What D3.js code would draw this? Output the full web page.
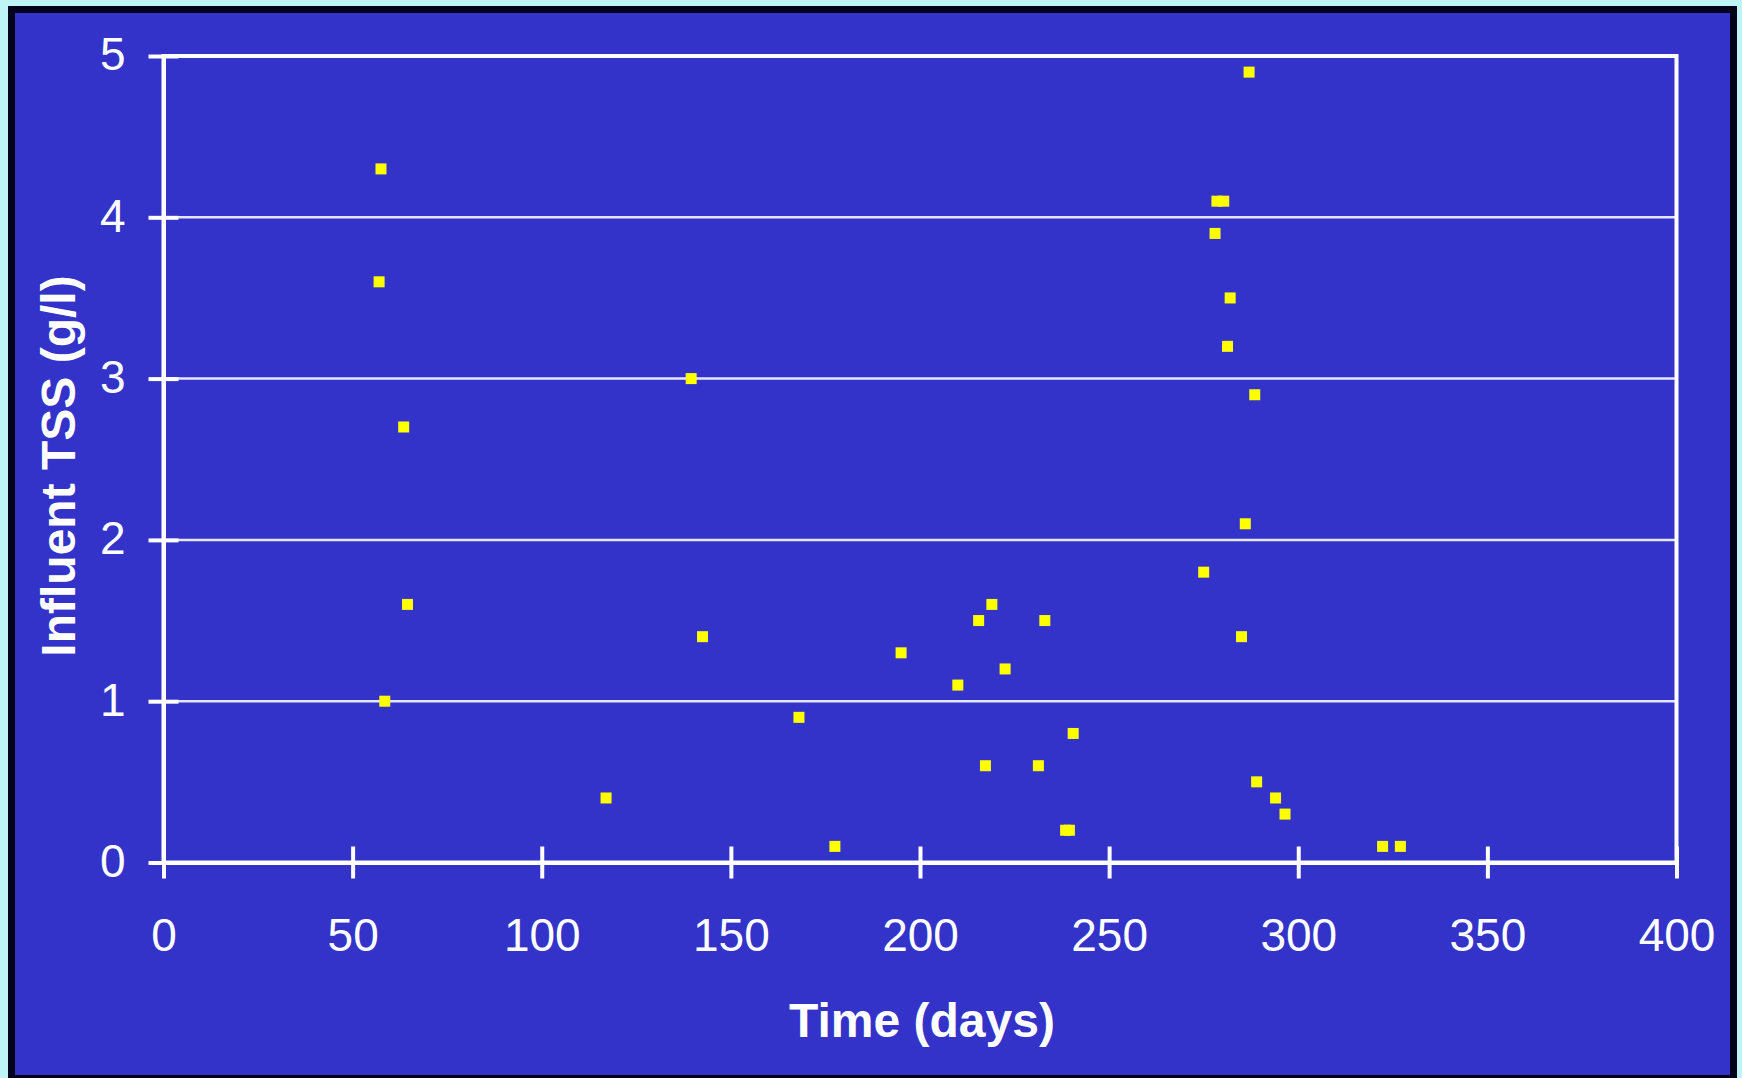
<!DOCTYPE html>
<meta charset="utf-8">
<body>
<script src="https://cdn.jsdelivr.net/npm/d3@7"></script>
<style>
    html, body {
        margin: 0;
        background: #bff4f7;
    }
    text {
        font-family: "Liberation Sans", Arial, sans-serif;
        fill: #fff;
    }
</style>
<script>
// influent TSS samples
var days = [57.5, 57, 63.5, 64.5, 58.5,
    117, 139.5, 142.5, 168, 177.5,
    195, 210, 215.5, 219, 222.5, 217.3, 233, 231.3, 240.5, 238.5, 239.5,
    275, 278, 278.5, 280.3, 282, 281.3, 288.5, 287, 286, 285, 289, 294, 296.5, 322.3, 327];
var tss = [4.3, 3.6, 2.7, 1.6, 1.0,
    0.4, 3.0, 1.4, 0.9, 0.1,
    1.3, 1.1, 1.5, 1.6, 1.2, 0.6, 1.5, 0.6, 0.8, 0.2, 0.2,
    1.8, 3.9, 4.1, 4.1, 3.5, 3.2, 2.9, 4.9, 2.1, 1.4, 0.5, 0.4, 0.3, 0.1, 0.1];

var xTicks = [0, 50, 100, 150, 200, 250, 300, 350, 400],
    yTicks = [0, 1, 2, 3, 4, 5];

var width = 1742,
    height = 1078;

var svg = d3.select("body").append("svg")
    .attr("width", width)
    .attr("height", height)
    .style("display", "block");

// slide frame
svg.append("rect")
    .attr("x", 8).attr("y", 6)
    .attr("width", 1729).attr("height", 1072)
    .attr("fill", "#02021a");
svg.append("rect")
    .attr("x", 15).attr("y", 13)
    .attr("width", 1715).attr("height", 1062)
    .attr("fill", "#3333c9");

var x = d3.scaleLinear().domain([0, 400]).range([163.5, 1676.5]),
    y = d3.scaleLinear().domain([0, 5]).range([862.5, 56]);

// gridlines
svg.append("g")
    .selectAll("line")
    .data(yTicks.slice(1, -1))
    .enter().append("line")
    .attr("x1", x(0)).attr("x2", x(400))
    .attr("y1", function(d) { return y(d); })
    .attr("y2", function(d) { return y(d); })
    .attr("stroke", "#e6e6ff")
    .attr("stroke-width", 2.5);

// plot area border (top + right)
svg.append("rect")
    .attr("x", x(0)).attr("y", y(5))
    .attr("width", x(400) - x(0)).attr("height", y(0) - y(5))
    .attr("fill", "none")
    .attr("stroke", "#fff")
    .attr("stroke-width", 4);

var xAxis = svg.append("g")
    .attr("transform", "translate(0," + y(0) + ")")
    .call(d3.axisBottom(x).tickValues(xTicks).tickFormat(d3.format("d"))
        .tickSize(16).tickSizeOuter(0));
xAxis.selectAll(".tick line").attr("y1", -16);
xAxis.selectAll(".tick text")
    .attr("y", 88).attr("dy", 0)
    .style("font-size", "46px");

var yAxis = svg.append("g")
    .attr("transform", "translate(" + x(0) + ",0)")
    .call(d3.axisLeft(y).tickValues(yTicks).tickFormat(d3.format("d"))
        .tickSize(15).tickSizeOuter(0));
yAxis.selectAll(".tick line").attr("x1", 15);
yAxis.selectAll(".tick text")
    .attr("x", -38).attr("dy", "0.3em")
    .style("font-size", "46px");

svg.selectAll(".domain, .tick line")
    .attr("stroke", "#fff")
    .attr("stroke-width", 4);
svg.selectAll(".tick text").attr("fill", "#fff");

// data
svg.append("g")
    .selectAll("rect")
    .data(days)
    .enter().append("rect")
    .attr("x", function(d) { return x(d) - 5.5; })
    .attr("y", function(d, i) { return y(tss[i]) - 5.5; })
    .attr("width", 11).attr("height", 11)
    .attr("fill", "#ffff00");

// axis titles
svg.append("text")
    .attr("x", 922).attr("y", 1037)
    .attr("text-anchor", "middle")
    .style("font-size", "48px")
    .style("font-weight", "bold")
    .text("Time (days)");

svg.append("text")
    .attr("transform", "translate(75," + 466 + ") rotate(-90)")
    .attr("text-anchor", "middle")
    .style("font-size", "48px")
    .style("font-weight", "bold")
    .text("Influent TSS (g/l)");
</script>
